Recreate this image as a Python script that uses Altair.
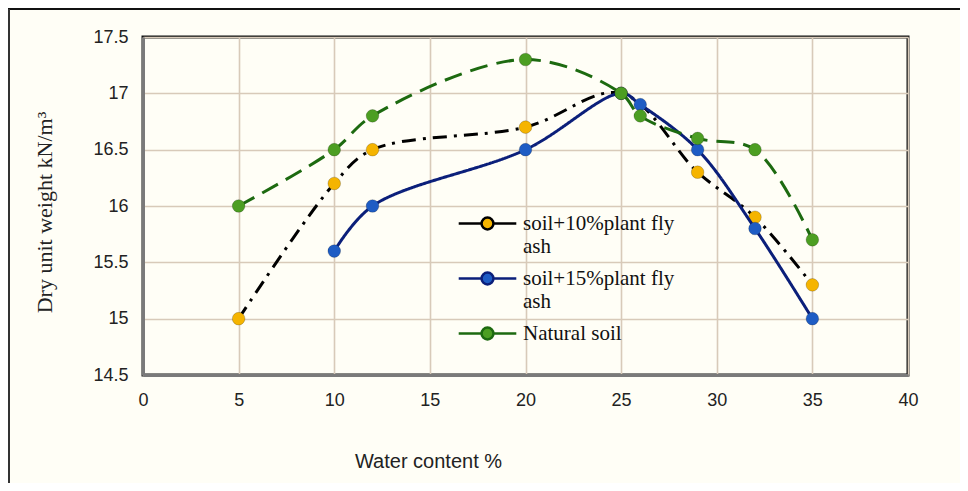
import altair as alt
import pandas as pd

series_names = ["soil+10%plant fly ash", "soil+15%plant fly ash", "Natural soil"]

water_10 = [5, 10, 12, 20, 25, 29, 32, 35]
weight_10 = [15.0, 16.2, 16.5, 16.7, 17.0, 16.3, 15.9, 15.3]

water_15 = [10, 12, 20, 25, 26, 29, 32, 35]
weight_15 = [15.6, 16.0, 16.5, 17.0, 16.9, 16.5, 15.8, 15.0]

water_nat = [5, 10, 12, 20, 25, 26, 29, 32, 35]
weight_nat = [16.0, 16.5, 16.8, 17.3, 17.0, 16.8, 16.6, 16.5, 15.7]

x_ticks = [0, 5, 10, 15, 20, 25, 30, 35, 40]
y_ticks = [14.5, 15, 15.5, 16, 16.5, 17, 17.5]

line_colors = ["#000000", "#0b1f7a", "#1d6a10"]
marker_colors = ["#f5b400", "#1e5cc4", "#4c9e22"]
dash_styles = [[14, 7, 3, 7], [1, 0], [18, 9]]

rows = []
for name, xs, ys in zip(series_names, [water_10, water_15, water_nat],
                        [weight_10, weight_15, weight_nat]):
    for i, (xv, yv) in enumerate(zip(xs, ys)):
        rows.append({"series": name, "water": xv, "weight": yv, "order": i})
df = pd.DataFrame(rows)

BG = "#fffef6"
GRID = "#d8cab9"

sym_path = ("M-1.6,0L-0.33,0M0.33,0L1.6,0"
            "M0.33,0A0.33,0.33,0,1,1,-0.33,0A0.33,0.33,0,1,1,0.33,0Z")

legend = alt.Legend(
    title=None, orient="none", legendX=325, legendY=167,
    symbolType=sym_path, symbolSize=1296, symbolStrokeWidth=2.5,
    labelFont="Liberation Serif", labelFontSize=21, labelColor="#111",
    labelLimit=400, labelOffset=16,
    labelExpr="indexof(datum.label, ' ash') > 0 ? [replace(datum.label, ' ash', ''), 'ash'] : datum.label",
    padding=0, rowPadding=2,
)

x_enc = alt.X("water:Q", scale=alt.Scale(domain=[0, 40], nice=False),
              axis=alt.Axis(values=x_ticks, title="Water content %",
                            titleX=285, titleY=86, titleBaseline="middle",
                            titleFont="Liberation Sans", titleFontSize=20,
                            titleFontWeight="normal", titleColor="#222",
                            labelFont="Liberation Sans", labelFontSize=18,
                            labelColor="#222", labelPadding=16, ticks=False,
                            labelFlush=False,
                            domainColor="#7a7a7a", domainWidth=3,
                            grid=True, gridColor=GRID, gridWidth=1.6))
y_enc = alt.Y("weight:Q", scale=alt.Scale(domain=[14.5, 17.5], nice=False, zero=False),
              axis=alt.Axis(values=y_ticks, format="~g", title="Dry unit weight kN/m³",
                            titleX=-99, titleY=175, titleAngle=270,
                            titleBaseline="middle", titleAlign="center",
                            titleFont="Liberation Serif", titleFontSize=22,
                            titleFontWeight="normal", titleColor="#222",
                            labelFont="Liberation Sans", labelFontSize=18,
                            labelColor="#222", labelPadding=15, ticks=False,
                            labelFlush=False,
                            domainColor="#7a7a7a", domainWidth=3,
                            grid=True, gridColor=GRID, gridWidth=1.6))

stroke_scale = alt.Scale(domain=series_names, range=line_colors)
fill_scale = alt.Scale(domain=series_names, range=marker_colors)

base = alt.Chart(df)

layers = []
for name, dash in zip(series_names, dash_styles):
    layers.append(
        base.transform_filter(alt.datum.series == name)
        .mark_line(interpolate="catmull-rom", strokeWidth=3, strokeDash=dash)
        .encode(x=x_enc, y=y_enc,
                stroke=alt.Stroke("series:N", scale=stroke_scale, legend=legend),
                order="order:Q")
    )
    layers.append(
        base.transform_filter(alt.datum.series == name)
        .mark_point(filled=True, size=160, opacity=1, stroke="#000",
                    strokeOpacity=0.2, strokeWidth=1)
        .encode(x=x_enc, y=y_enc,
                fill=alt.Fill("series:N", scale=fill_scale, legend=legend))
    )

frame_df = pd.DataFrame({"k": [0]})
top_rule = alt.Chart(frame_df).mark_rule(color="#111", strokeWidth=2).encode(
    x=alt.value(-135), x2=alt.value(817), y=alt.value(-28))
left_rule = alt.Chart(frame_df).mark_rule(color="#333", strokeWidth=2).encode(
    x=alt.value(-134), y=alt.value(-28), y2=alt.value(446))

chart = alt.layer(*layers, top_rule, left_rule).properties(
    width=765, height=338,
    autosize=alt.AutoSizeParams(type="none"),
    padding={"left": 135, "top": 29, "right": 52, "bottom": 108},
    background=BG,
).configure_view(fill=BG, stroke="#111", strokeWidth=3)

chart.save("out.html", embed_options={"renderer": "svg", "actions": False})
